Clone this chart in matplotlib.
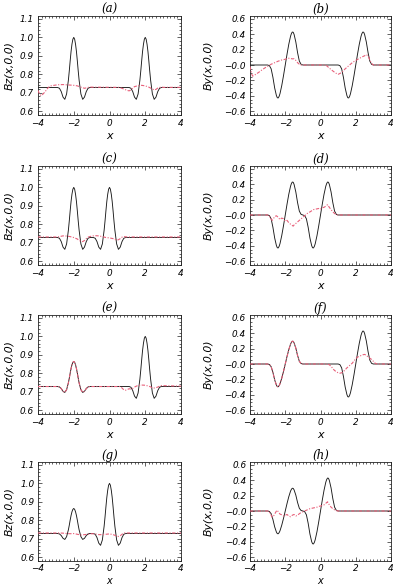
import matplotlib
matplotlib.use("Agg")
import matplotlib.pyplot as plt
from matplotlib.ticker import MultipleLocator, FixedLocator, FixedFormatter

# ---------------- data ----------------
# x positions (Bz structures)
XBZ_M2 = [-2.9, -2.8, -2.7, -2.6, -2.5, -2.4, -2.3, -2.25, -2.2, -2.15, -2.1, -2.05, -2.0,
          -1.95, -1.9, -1.85, -1.8, -1.75, -1.7, -1.6, -1.5, -1.4, -1.3, -1.2, -1.1]
XBZ_0 = [-0.9, -0.8, -0.7, -0.6, -0.5, -0.4, -0.3, -0.25, -0.2, -0.15, -0.1, -0.05, 0.0,
         0.05, 0.1, 0.15, 0.2, 0.25, 0.3, 0.4, 0.5, 0.6, 0.7, 0.8, 0.9]
XBZ_P2 = [1.1, 1.2, 1.3, 1.4, 1.5, 1.6, 1.7, 1.75, 1.8, 1.85, 1.9, 1.95, 2.0,
          2.05, 2.1, 2.15, 2.2, 2.25, 2.3, 2.4, 2.5, 2.6, 2.7, 2.8, 2.9]
# x positions (By structures)
XBY_M2 = [-3.0, -2.9, -2.8, -2.7, -2.6, -2.5, -2.45, -2.4, -2.35, -2.3, -2.2, -2.1, -2.0,
          -1.9, -1.8, -1.7, -1.65, -1.6, -1.55, -1.5, -1.4, -1.3, -1.2, -1.1, -1.0]
XBY_0 = [-0.9, -0.8, -0.7, -0.6, -0.5, -0.45, -0.4, -0.35, -0.3, -0.2, -0.1, 0.0,
         0.1, 0.2, 0.3, 0.35, 0.4, 0.45, 0.5, 0.6, 0.7, 0.8, 0.9, 1.0]
XBY_P2 = [1.0, 1.1, 1.2, 1.3, 1.4, 1.5, 1.55, 1.6, 1.65, 1.7, 1.8, 1.9, 2.0,
          2.1, 2.2, 2.3, 2.35, 2.4, 2.45, 2.5, 2.6, 2.7, 2.8, 2.9, 3.0]

# Bz values of a full and of a weaker peak
BZ_FULL = [0.728, 0.724, 0.706, 0.676, 0.664, 0.693, 0.768, 0.818, 0.873, 0.924, 0.963, 0.990, 1.000,
           0.990, 0.963, 0.924, 0.873, 0.818, 0.768, 0.693, 0.664, 0.676, 0.706, 0.724, 0.728]
BZ_WEAK = [0.728, 0.726, 0.717, 0.702, 0.696, 0.711, 0.748, 0.773, 0.801, 0.826, 0.846, 0.859, 0.864,
           0.859, 0.846, 0.826, 0.801, 0.773, 0.748, 0.711, 0.696, 0.702, 0.717, 0.726, 0.728]
# By values of a full and of a weaker structure
BY_FULL = [0.0, -0.008, -0.05, -0.16, -0.30, -0.40, -0.427, -0.43, -0.41, -0.375, -0.27, -0.14, 0.0,
           0.14, 0.27, 0.375, 0.41, 0.43, 0.427, 0.40, 0.30, 0.16, 0.05, 0.008, 0.0]
BY_WEAK = [0.0, -0.006, -0.035, -0.11, -0.207, -0.276, -0.295, -0.297, -0.283, -0.259, -0.186, -0.097, 0.0,
           0.097, 0.186, 0.259, 0.283, 0.297, 0.295, 0.276, 0.207, 0.11, 0.035, 0.006, 0.0]
BZ_BASE = 0.728

# black (exact) curves per panel
black_x = {
    'a': [-4.0] + XBZ_M2 + XBZ_P2 + [4.0],
    'b': [-4.0] + XBY_M2 + XBY_P2 + [4.0],
    'c': [-4.0] + XBZ_M2 + XBZ_0 + [4.0],
    'd': [-4.0] + XBY_M2 + XBY_0 + [4.0],
    'e': [-4.0] + XBZ_M2 + XBZ_P2 + [4.0],
    'f': [-4.0] + XBY_M2 + XBY_P2 + [4.0],
    'g': [-4.0] + XBZ_M2 + XBZ_0 + [4.0],
    'h': [-4.0] + XBY_M2 + XBY_0 + [4.0],
}
black_y = {
    'a': [BZ_BASE] + BZ_FULL + BZ_FULL + [BZ_BASE],
    'b': [0.0] + BY_FULL + BY_FULL + [0.0],
    'c': [BZ_BASE] + BZ_FULL + BZ_FULL + [BZ_BASE],
    'd': [0.0] + BY_FULL + BY_FULL[1:] + [0.0],
    'e': [BZ_BASE] + BZ_WEAK + BZ_FULL + [BZ_BASE],
    'f': [0.0] + BY_WEAK + BY_FULL + [0.0],
    'g': [BZ_BASE] + BZ_WEAK + BZ_FULL + [BZ_BASE],
    'h': [0.0] + BY_WEAK + BY_FULL[1:] + [0.0],
}

# red dashed (reconstructed) curves per panel
red_x = {
    'a': [-4.0, -3.9, -3.8, -3.7, -3.6, -3.5, -3.4, -3.3, -3.1, -2.9, -2.6, -2.3, -2.0, -1.8, -1.6,
          -1.4, -1.3, -1.1, -1.0, 0.5, 0.6, 0.8, 1.0, 1.1, 1.2, 1.3, 1.4, 1.6, 1.8, 2.0, 2.2, 2.4,
          2.5, 2.6, 2.7, 2.9, 3.0, 4.0],
    'b': [-4.0, -3.95, -3.9, -3.85, -3.7, -3.5, -3.3, -3.1, -2.95, -2.8, -2.6, -2.4, -2.2, -2.0,
          -1.9, -1.8, -1.7, -1.6, -1.5, -1.4, -1.3, -1.2, -1.1, 0.3, 0.4, 0.6, 0.8, 0.9, 1.0, 1.1,
          1.2, 1.3, 1.4, 1.6, 1.8, 2.0, 2.2, 2.4, 2.5, 2.6, 2.7, 2.8, 2.9, 3.0, 4.0],
    'c': [-4.0, -2.9, -2.6, -2.4, -2.2, -2.0, -1.8, -1.7, -1.6, -1.5, -1.4, -1.3, -1.2, -1.0, -0.8,
          -0.6, -0.4, -0.2, 0.0, 0.2, 0.3, 0.4, 0.5, 0.6, 0.7, 0.8, 1.0, 4.0],
    'd': [-4.0, -2.95, -2.85, -2.75, -2.7, -2.6, -2.5, -2.4, -2.3, -2.2, -2.1, -2.0, -1.9, -1.8,
          -1.7, -1.55, -1.5, -1.4, -1.3, -1.2, -1.1, -1.0, -0.9, -0.8, -0.7, -0.6, -0.5, -0.4, -0.3,
          -0.2, -0.1, 0.0, 0.1, 0.2, 0.3, 0.4, 0.5, 0.6, 0.7, 0.8, 0.9, 1.0, 4.0],
    'e': [-4.0] + XBZ_M2 + [0.6, 0.7, 0.8, 0.9, 1.0, 1.1, 1.2, 1.3, 1.4, 1.5, 1.6, 1.8, 2.0, 2.2,
                           2.4, 2.5, 2.6, 2.7, 2.8, 2.9, 4.0],
    'f': [-4.0] + XBY_M2 + [0.4, 0.5, 0.6, 0.7, 0.8, 0.9, 1.0, 1.1, 1.2, 1.3, 1.4, 1.5, 1.6, 1.7,
                           1.8, 1.9, 2.0, 2.1, 2.2, 2.3, 2.4, 2.5, 2.6, 2.7, 2.8, 2.9, 3.0, 3.1,
                           3.2, 4.0],
    'g': [-4.0, -2.8, -2.6, -2.4, -2.2, -2.0, -1.8, -1.6, -1.4, -1.2, -1.0, -0.8, -0.6, -0.4, -0.2,
          0.0, 0.2, 0.4, 0.5, 0.6, 0.7, 0.8, 4.0],
    'h': [-4.0, -2.95, -2.85, -2.75, -2.65, -2.55, -2.5, -2.45, -2.4, -2.3, -2.2, -2.1, -2.0, -1.9,
          -1.8, -1.7, -1.6, -1.5, -1.4, -1.3, -1.2, -1.1, -1.0, -0.9, -0.8, -0.7, -0.6, -0.5, -0.4,
          -0.3, -0.2, -0.1, 0.0, 0.1, 0.2, 0.3, 0.4, 0.5, 0.6, 0.7, 0.8, 0.9, 1.0, 4.0],
}
red_y = {
    'a': [0.712, 0.690, 0.684, 0.695, 0.705, 0.720, 0.730, 0.737, 0.740, 0.743, 0.744, 0.742, 0.740,
          0.737, 0.730, 0.724, 0.726, 0.731, 0.730, 0.729, 0.727, 0.720, 0.712, 0.710, 0.715, 0.725,
          0.733, 0.738, 0.740, 0.737, 0.730, 0.720, 0.715, 0.718, 0.725, 0.731, 0.729, 0.729],
    'b': [-0.02, -0.07, -0.12, -0.145, -0.125, -0.095, -0.06, -0.03, -0.01, 0.01, 0.03, 0.05, 0.065,
          0.075, 0.085, 0.088, 0.085, 0.08, 0.082, 0.06, 0.03, 0.01, 0.0, 0.0, -0.02, -0.06, -0.095,
          -0.11, -0.122, -0.11, -0.10, -0.075, -0.05, -0.01, 0.03, 0.06, 0.085, 0.11, 0.12, 0.135,
          0.12, 0.06, 0.02, 0.0, 0.0],
    'c': [0.731, 0.731, 0.737, 0.736, 0.733, 0.728, 0.720, 0.712, 0.708, 0.706, 0.712, 0.722, 0.730,
          0.736, 0.738, 0.737, 0.733, 0.728, 0.726, 0.722, 0.718, 0.714, 0.716, 0.722, 0.730, 0.733,
          0.731, 0.731],
    'd': [0.0, 0.0, -0.03, -0.07, -0.06, -0.02, -0.01, -0.03, -0.06, -0.04, -0.05, -0.08, -0.07, -0.10,
          -0.12, -0.145, -0.13, -0.11, -0.09, -0.07, -0.05, -0.03, -0.01, 0.01, 0.03, 0.04, 0.055,
          0.07, 0.075, 0.08, 0.085, 0.075, 0.095, 0.10, 0.115, 0.135, 0.10, 0.07, 0.04, 0.02, 0.005,
          0.0, 0.0],
    'e': [BZ_BASE] + BZ_WEAK + [0.728, 0.720, 0.710, 0.708, 0.712, 0.716, 0.714, 0.718, 0.725, 0.730,
                                0.734, 0.736, 0.735, 0.730, 0.722, 0.720, 0.722, 0.725, 0.730, 0.733,
                                0.730],
    'f': [0.0] + BY_WEAK + [0.0, -0.01, -0.03, -0.06, -0.085, -0.10, -0.115, -0.12, -0.115, -0.10,
                            -0.075, -0.05, -0.03, -0.01, 0.01, 0.04, 0.07, 0.09, 0.10, 0.11, 0.12,
                            0.125, 0.115, 0.09, 0.075, 0.06, 0.035, 0.01, 0.0, 0.0],
    'g': [0.731, 0.731, 0.730, 0.728, 0.727, 0.728, 0.724, 0.720, 0.722, 0.724, 0.727, 0.726, 0.722,
          0.722, 0.724, 0.726, 0.722, 0.715, 0.712, 0.716, 0.724, 0.731, 0.731],
    'h': [0.0, 0.0, -0.03, -0.08, -0.06, -0.02, 0.0, 0.01, -0.01, -0.04, -0.05, -0.065, -0.055,
          -0.045, -0.065, -0.075, -0.055, -0.045, -0.065, -0.055, -0.035, -0.02, -0.01, 0.0, 0.01,
          0.02, 0.03, 0.035, 0.04, 0.045, 0.05, 0.06, 0.065, 0.07, 0.08, 0.10, 0.12, 0.08, 0.05,
          0.03, 0.015, 0.005, 0.0, 0.0],
}

panels = ['a', 'b', 'c', 'd', 'e', 'f', 'g', 'h']
titles = ['(a)', '(b)', '(c)', '(d)', '(e)', '(f)', '(g)', '(h)']
x_ticks = [-4, -2, 0, 2, 4]
x_ticklabels = ['\u22124', '\u22122', '0', '2', '4']
bz_ticks = [0.6, 0.7, 0.8, 0.9, 1.0, 1.1]
bz_ticklabels = ['0.6', '0.7', '0.8', '0.9', '1.0', '1.1']
by_ticks = [-0.6, -0.4, -0.2, 0.0, 0.2, 0.4, 0.6]
by_ticklabels = ['\u22120.6', '\u22120.4', '\u22120.2', '\u22120.0', '0.2', '0.4', '0.6']
ylabels = {'bz': 'Bz(x,0,0)', 'by': 'By(x,0,0)'}

# ---------------- figure ----------------
W, H = 397, 586
fig = plt.figure(figsize=(W / 100, H / 100), dpi=100)

tops = [16, 166, 315, 462]
ax_h = 99
lefts = [38, 250]
widths = [143, 141]

tick_font = dict(family='DejaVu Sans', style='italic', size=6.4)
RED = '#e8607a'

for i, p in enumerate(panels):
    row, col = divmod(i, 2)
    l = lefts[col] / W
    b = 1 - (tops[row] + ax_h) / H
    ax = fig.add_axes([l, b, widths[col] / W, ax_h / H])
    ax.plot(black_x[p], black_y[p], color='#1a1a1a', lw=0.65, zorder=2)
    ax.plot(red_x[p], red_y[p], color=RED, lw=0.8, linestyle=(0, (3, 1.4, 1, 1.4)), zorder=3)
    ax.set_xlim(-4, 4)
    ax.xaxis.set_major_locator(FixedLocator(x_ticks))
    ax.xaxis.set_major_formatter(FixedFormatter(x_ticklabels))
    ax.xaxis.set_minor_locator(MultipleLocator(0.2))
    if col == 0:
        ax.set_ylim(0.579, 1.116)
        ax.yaxis.set_major_locator(FixedLocator(bz_ticks))
        ax.yaxis.set_major_formatter(FixedFormatter(bz_ticklabels))
        ax.yaxis.set_minor_locator(MultipleLocator(0.02))
        ax.set_ylabel(ylabels['bz'], family='DejaVu Sans', style='italic', size=7.8)
        ax.yaxis.set_label_coords(-0.168, 0.5)
    else:
        ax.set_ylim(-0.652, 0.639)
        ax.yaxis.set_major_locator(FixedLocator(by_ticks))
        ax.yaxis.set_major_formatter(FixedFormatter(by_ticklabels))
        ax.yaxis.set_minor_locator(MultipleLocator(0.05))
        ax.set_ylabel(ylabels['by'], family='DejaVu Sans', style='italic', size=7.8)
        ax.yaxis.set_label_coords(-0.255, 0.5)
    ax.set_title(titles[i], family='DejaVu Serif', style='italic', size=8.5, pad=2.5)
    ax.tick_params(which='both', direction='in', top=True, right=True, width=0.5, color='#222222')
    ax.tick_params(which='major', length=3.0, pad=(2.3 if row == 3 else 3.2))
    ax.tick_params(which='minor', length=1.5)
    if row == 3:
        # the reference crops this label at the figure edge; keep it just inside
        ax.set_xlabel('x', family='DejaVu Sans', style='italic', size=7.0)
        ax.xaxis.set_label_coords(l + widths[col] / W / 2, 0.3 / H, transform=fig.transFigure)
        ax.xaxis.label.set_va('bottom')
    else:
        ax.set_xlabel('x', family='DejaVu Sans', style='italic', size=8, labelpad=2)
    for lab in ax.get_xticklabels() + ax.get_yticklabels():
        lab.set_fontfamily(tick_font['family'])
        lab.set_fontstyle(tick_font['style'])
        lab.set_fontsize(tick_font['size'])
    for s in ax.spines.values():
        s.set_linewidth(0.6)
        s.set_color('#222222')

fig.savefig('out.png', dpi=100)
